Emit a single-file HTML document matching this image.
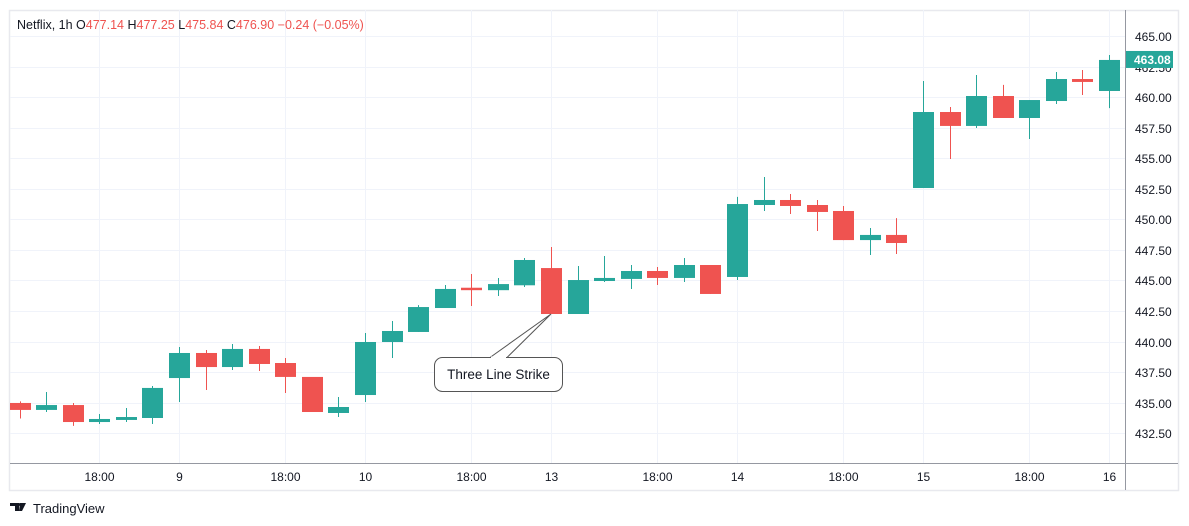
<!DOCTYPE html>
<html><head><meta charset="utf-8">
<style>
html,body{margin:0;padding:0;background:#fff;width:1189px;height:526px;overflow:hidden;font-family:"Liberation Sans",sans-serif;}
svg{display:block}
</style></head>
<body>
<svg id="chart" width="1189" height="526" xmlns="http://www.w3.org/2000/svg">
  <rect x="9.5" y="10.5" width="1169" height="480" fill="#fff" stroke="#e8e9ee" stroke-width="1.5"/>
  <g id="grid"></g>
  <g id="candles"></g>
  <line x1="10" y1="463.5" x2="1178" y2="463.5" stroke="#9598a1" stroke-width="1"/>
  <line x1="1125.5" y1="10" x2="1125.5" y2="490" stroke="#9598a1" stroke-width="1"/>
  <g id="yticks"></g>
  <g id="xticks"></g>
  <text x="17" y="29" font-size="12.5" fill="#131722">Netflix, 1h  O<tspan fill="#ef5350">477.14</tspan>  H<tspan fill="#ef5350">477.25</tspan>  L<tspan fill="#ef5350">475.84</tspan>  C<tspan fill="#ef5350">476.90</tspan>  <tspan fill="#ef5350">−0.24 (−0.05%)</tspan></text>
  <g>
    <path d="M490 357.5 L551 314 L507 357.5" fill="#fff" stroke="#555" stroke-width="1"/>
    <rect x="434.5" y="357.5" width="128" height="34" rx="8" fill="#fff" stroke="#555" stroke-width="1"/>
    <line x1="491" y1="357.5" x2="506" y2="357.5" stroke="#fff" stroke-width="2"/>
    <text x="498.5" y="379" text-anchor="middle" font-size="13.5" fill="#131722">Three Line Strike</text>
  </g>
  <g id="lastprice"></g>
  <g>
    <path d="M10 503 h9 v8 h-4 v-5 h-5 z M20 503 h6 l-4 8 h-3 z" fill="#131722"/>
    <circle cx="19.5" cy="504.5" r="1.4" fill="#131722"/>
    <text x="33" y="513" font-size="13" fill="#131722">TradingView</text>
  </g>
</svg>
<script>
const opens  = [434.97,434.4,434.8,433.41,433.58,433.74,437.01,439.06,437.91,439.39,438.24,437.1,434.15,435.62,439.96,440.78,442.74,444.4,444.2,444.6,446.01,442.25,444.95,445.12,445.77,445.2,446.26,445.28,451.17,451.58,451.17,450.68,448.3,448.72,452.56,458.78,457.64,460.09,458.29,459.68,461.48,460.5];
const highs  = [435.1,435.87,434.97,434.07,434.56,436.36,439.55,439.3,439.8,439.63,438.65,437.1,435.46,440.7,441.68,442.98,444.62,445.52,445.2,446.83,447.73,446.18,447.0,446.26,446.1,446.83,446.26,451.83,453.46,452.07,451.58,451.09,449.29,450.1,461.32,459.19,461.81,461.0,459.76,462.05,462.22,463.45];
const lows   = [433.7,434.23,433.1,433.25,433.41,433.25,435.05,436.03,437.67,437.59,435.79,434.23,433.82,435.05,438.65,440.78,442.74,442.9,443.72,444.46,442.25,442.25,444.87,444.3,444.62,444.87,443.89,445.03,450.68,450.43,449.04,448.3,447.08,447.16,452.56,454.93,457.47,458.29,456.57,459.44,460.17,459.1];
const closes = [434.4,434.8,433.41,433.66,433.82,436.2,439.06,437.91,439.39,438.16,437.1,434.23,434.64,439.96,440.86,442.82,444.3,444.2,444.7,446.67,442.25,445.03,445.2,445.77,445.2,446.26,443.89,451.25,451.58,451.09,450.6,448.3,448.72,448.06,458.78,457.64,460.09,458.29,459.76,461.48,461.24,463.04];
const priceTicks = [432.5,435,437.5,440,442.5,445,447.5,450,452.5,455,457.5,460,462.5,465];
const timeLabels = ["18:00","9","18:00","10","18:00","13","18:00","14","18:00","15","18:00","16"];
const timeLabelIdx = [3,6,10,13,17,20,24,27,31,34,38,41];
const lastPrice = 463.08;

const NS="http://www.w3.org/2000/svg";
function y(p){return 36+(465-p)*12.22;}
function x(i){return 19.6+i*26.57;}
function mk(tag,attrs,parent){const e=document.createElementNS(NS,tag);for(const k in attrs)e.setAttribute(k,attrs[k]);parent.appendChild(e);return e;}
const grid=document.getElementById('grid'),cg=document.getElementById('candles'),yt=document.getElementById('yticks'),xt=document.getElementById('xticks');
priceTicks.forEach(p=>{
  const yy=Math.round(y(p))+0.5;
  const l=mk('line',{x1:10,x2:1125,y1:yy,y2:yy,stroke:'#f0f3fa','stroke-width':1},grid);
  
  
  const t=mk('text',{x:1135,y:yy+4.5,'font-size':12,fill:'#131722'},yt);
  
  
  t.textContent=p.toFixed(2);
});
timeLabels.forEach((s,k)=>{
  const xx=Math.round(x(timeLabelIdx[k]))+0.5;
  const l=mk('line',{x1:xx,x2:xx,y1:10,y2:463,stroke:'#f0f3fa','stroke-width':1},grid);
  
  
  const t=mk('text',{x:xx,y:481,'font-size':12,fill:'#131722','text-anchor':'middle'},xt);
  
  
  t.textContent=s;
});
opens.forEach((o,i)=>{
  const c=closes[i],up=c>=o,col=up?'#26a69a':'#ef5350';
  const cx=Math.round(x(i));
  const w=mk('line',{x1:cx+0.5,x2:cx+0.5,y1:y(highs[i]),y2:y(lows[i]),stroke:col,'stroke-width':1},cg);
  
  
  const top=y(Math.max(o,c)),bot=y(Math.min(o,c));
  const b=mk('rect',{x:cx-10,y:top,width:21,height:Math.max(bot-top,1.5),fill:col},cg);
  
  
});
const lp=document.getElementById('lastprice');
const ly=y(lastPrice);
mk('rect',{x:1126,y:ly-8.5,width:47,height:17,fill:'#26a69a'},lp);
const lt=mk('text',{x:1134,y:ly+4.5,'font-size':12,'font-weight':'bold',fill:'#fff'},lp);
lt.textContent=lastPrice.toFixed(2);
</script>
</body></html>
